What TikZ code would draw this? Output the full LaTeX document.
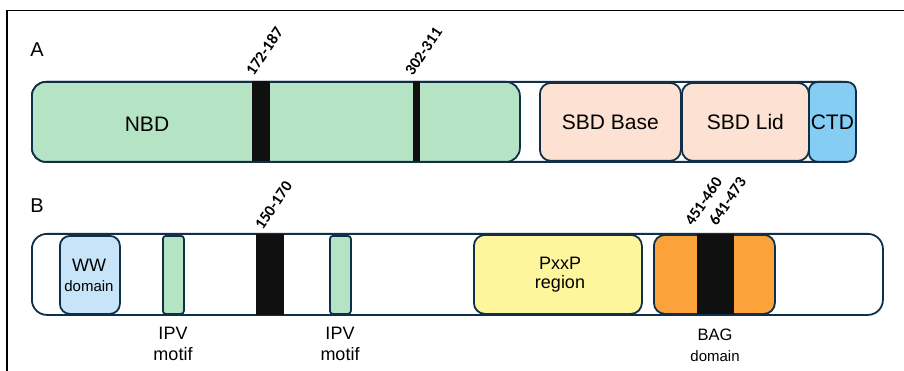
\documentclass[tikz,border=0pt]{standalone}
\usepackage{fontspec}
\setmainfont{Liberation Sans}
\newfontfamily\numfont{Carlito}
\definecolor{navy}{HTML}{10304A}
\definecolor{nbdgreen}{HTML}{B5E4C4}
\definecolor{sbdpeach}{HTML}{FDE1D3}
\definecolor{ctdblue}{HTML}{86CDF4}
\definecolor{wwblue}{HTML}{C7E4F8}
\definecolor{pxxyellow}{HTML}{FEF69C}
\definecolor{bagorange}{HTML}{FCA23B}
\definecolor{blk}{HTML}{101010}
\tikzset{
  box/.style={draw=navy, line width=1.8pt, rectangle, anchor=north west, inner sep=0pt},
  bigtxt/.style={font=\fontsize{21}{24}\selectfont},
  smtxt/.style={font=\fontsize{18}{20}\selectfont, inner sep=0pt},
  midtxt/.style={font=\fontsize{16.5}{20}\selectfont, inner sep=0pt},
  tinytxt/.style={font=\fontsize{15}{18}\selectfont, inner sep=0pt},
  numlab/.style={font=\numfont\bfseries\fontsize{16}{18}\selectfont, rotate=56, anchor=south west, inner sep=0pt},
  panel/.style={font=\fontsize{20}{24}\selectfont},
}
\begin{document}
\begin{tikzpicture}[x=1pt,y=-1pt]
\useasboundingbox (0,0) rectangle (904,371);
% frame
\draw[line width=1.3pt] (7,371) -- (7,10.5) -- (904,10.5);
% panel labels
\node[panel] (labA) at (37,50) {A};
\node[panel] (labB) at (37,205.5) {B};
% ---------- Row A ----------
\node[box, fill=white, rounded corners=14pt, minimum width=824pt, minimum height=80pt] (barA) at (31,81) {};
\node[box, fill=nbdgreen, rounded corners=14pt, minimum width=488pt, minimum height=80pt] (nbd) at (31,81) {};
\node[bigtxt] (nbdt) at (147,124) {NBD};
\node[box, draw=blk, line width=0.4pt, fill=blk, minimum width=17pt, minimum height=79pt] (k1) at (251.5,81.5) {};
\node[box, draw=blk, line width=0.4pt, fill=blk, minimum width=6pt, minimum height=79pt] (k2) at (413,81.5) {};
\node[numlab] (l1) at (254,77) {172-187};
\node[numlab] (l2) at (413,77) {302-311};
\node[box, fill=sbdpeach, rounded corners=11pt, minimum width=141pt, minimum height=78pt] (sbdb) at (539,82) {};
\node[bigtxt] at (sbdb.center) {SBD Base};
\node[box, fill=sbdpeach, rounded corners=11pt, minimum width=127pt, minimum height=78pt] (sbdl) at (681,82) {};
\node[bigtxt] at (sbdl.center) {SBD Lid};
\node[box, fill=ctdblue, rounded corners=9pt, minimum width=47pt, minimum height=80pt] (ctd) at (808,81) {};
\node[bigtxt] at (ctd.center) {CTD};
% ---------- Row B ----------
\node[box, fill=white, rounded corners=15pt, minimum width=851pt, minimum height=81pt] (barB) at (31,233) {};
\node[box, fill=wwblue, rounded corners=10pt, minimum width=60pt, minimum height=78pt] (ww) at (59,235) {};
\node[smtxt] (wwt1) at (89,265) {WW};
\node[tinytxt] (wwt2) at (89,286) {domain};
\node[box, fill=nbdgreen, rounded corners=3pt, minimum width=21pt, minimum height=78pt] (ipv1) at (162,235) {};
\node[box, fill=nbdgreen, rounded corners=3pt, minimum width=21pt, minimum height=78pt] (ipv2) at (329,235) {};
\node[smtxt] (ipv1a) at (173,333) {IPV};
\node[smtxt] (ipv1b) at (173,354) {motif};
\node[smtxt] (ipv2a) at (340,333) {IPV};
\node[smtxt] (ipv2b) at (340,354) {motif};
\node[box, draw=blk, line width=0.4pt, fill=blk, minimum width=27pt, minimum height=80pt] (k3) at (256,234) {};
\node[numlab] (l3) at (263,231) {150-170};
\node[box, fill=pxxyellow, rounded corners=11pt, minimum width=168pt, minimum height=79pt] (pxxp) at (473,234) {};
\node[smtxt] (pxt1) at (560,263) {PxxP};
\node[smtxt] (pxt2) at (560,284) {region};
\node[box, fill=bagorange, rounded corners=11pt, minimum width=121pt, minimum height=79pt] (bag) at (653,234) {};
\node[box, draw=blk, line width=0.4pt, fill=blk, minimum width=36pt, minimum height=79pt] (k4) at (697,234) {};
\node[numlab] (l4) at (693,227) {451-460};
\node[numlab] (l5) at (717,227) {641-473};
\node[midtxt] (bagt1) at (715,335) {BAG};
\node[tinytxt] (bagt2) at (715,356) {domain};
\end{tikzpicture}
\end{document}
